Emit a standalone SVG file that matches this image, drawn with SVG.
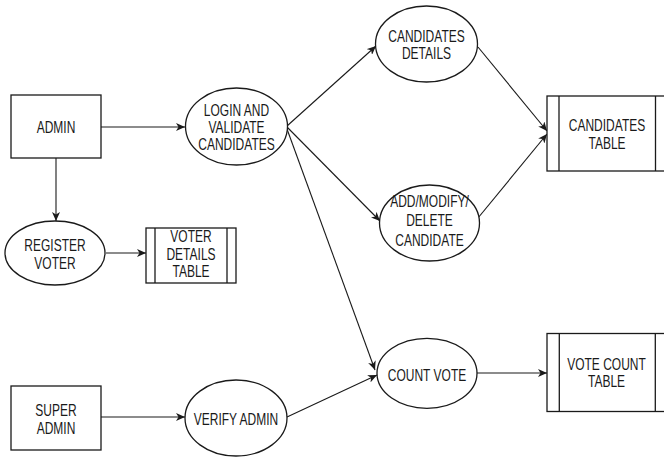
<svg xmlns="http://www.w3.org/2000/svg" width="664" height="457" viewBox="0 0 664 457">
<style>
.s{fill:#fff;stroke:#1a1a1a;stroke-width:1.3}
.c{fill:none;stroke:#1a1a1a;stroke-width:1.1}
.t{font-family:"Liberation Sans",Arial,sans-serif;font-size:12px;fill:#1a1a1a;text-anchor:middle}
</style>
<defs>
<marker id="ah" markerWidth="10" markerHeight="8" refX="9" refY="4" orient="auto" markerUnits="userSpaceOnUse">
<path d="M0,0 L9,4 L0,8 L2.5,4 Z" fill="#1a1a1a"/>
</marker>
</defs>
<rect width="664" height="457" fill="#fff"/>
<g id="connectors">
<line class="c" x1="101" y1="127" x2="185" y2="127" marker-end="url(#ah)"/>
<line class="c" x1="56" y1="158" x2="56" y2="221" marker-end="url(#ah)"/>
<line class="c" x1="106" y1="253" x2="146" y2="253" marker-end="url(#ah)"/>
<line class="c" x1="287" y1="126" x2="376" y2="46" marker-end="url(#ah)"/>
<line class="c" x1="287" y1="127" x2="380" y2="221" marker-end="url(#ah)"/>
<line class="c" x1="287" y1="129" x2="375" y2="370" marker-end="url(#ah)"/>
<line class="c" x1="478" y1="47" x2="547" y2="131" marker-end="url(#ah)"/>
<line class="c" x1="478" y1="218" x2="547" y2="134" marker-end="url(#ah)"/>
<line class="c" x1="101" y1="417" x2="185" y2="417" marker-end="url(#ah)"/>
<line class="c" x1="287" y1="417" x2="377" y2="375" marker-end="url(#ah)"/>
<line class="c" x1="477" y1="373" x2="547" y2="373" marker-end="url(#ah)"/>
</g>
<g id="admin">
<rect class="s" x="11" y="95" width="90" height="63"/>
<text class="t" transform="translate(56,127) scale(1,1.35)"><tspan x="0" y="4.3">ADMIN</tspan></text>
</g>
<g id="login">
<ellipse class="s" cx="236.5" cy="126.5" rx="51" ry="38.5"/>
<text class="t" transform="translate(236.5,127) scale(1,1.35)"><tspan x="0" y="-8.3">LOGIN AND</tspan><tspan x="0" y="4.3">VALIDATE</tspan><tspan x="0" y="16.9">CANDIDATES</tspan></text>
</g>
<g id="register">
<ellipse class="s" cx="55" cy="253" rx="50" ry="32"/>
<text class="t" transform="translate(55,254) scale(1,1.35)"><tspan x="0" y="-2.2">REGISTER</tspan><tspan x="0" y="10.8">VOTER</tspan></text>
</g>
<g id="voter-table">
<rect class="s" x="146" y="228" width="90" height="55"/>
<line class="s" x1="155" y1="228" x2="155" y2="283"/>
<line class="s" x1="227" y1="228" x2="227" y2="283"/>
<text class="t" transform="translate(191,254) scale(1,1.35)"><tspan x="0" y="-8.7">VOTER</tspan><tspan x="0" y="4.3">DETAILS</tspan><tspan x="0" y="17.3">TABLE</tspan></text>
</g>
<g id="cand-details">
<ellipse class="s" cx="426.5" cy="44" rx="51" ry="38"/>
<text class="t" transform="translate(426.5,44.5) scale(1,1.35)"><tspan x="0" y="-2.2">CANDIDATES</tspan><tspan x="0" y="10.8">DETAILS</tspan></text>
</g>
<g id="add-modify">
<ellipse class="s" cx="429.5" cy="223" rx="50" ry="38"/>
<text class="t" transform="translate(429.5,220.5) scale(1,1.35)"><tspan x="0" y="-10.1">ADD/MODIFY/</tspan><tspan x="0" y="4.3">DELETE</tspan><tspan x="0" y="18.7">CANDIDATE</tspan></text>
</g>
<g id="cand-table">
<rect class="s" x="547" y="96" width="122" height="75"/>
<line class="s" x1="559" y1="96" x2="559" y2="171"/>
<line class="s" x1="655.5" y1="96" x2="655.5" y2="171"/>
<text class="t" transform="translate(607,134) scale(1,1.35)"><tspan x="0" y="-2.2">CANDIDATES</tspan><tspan x="0" y="10.8">TABLE</tspan></text>
</g>
<g id="super-admin">
<rect class="s" x="11" y="386" width="90" height="64"/>
<text class="t" transform="translate(56,419) scale(1,1.35)"><tspan x="0" y="-2.2">SUPER</tspan><tspan x="0" y="10.8">ADMIN</tspan></text>
</g>
<g id="verify-admin">
<ellipse class="s" cx="236" cy="418" rx="51" ry="38"/>
<text class="t" transform="translate(236,419.3) scale(1,1.35)"><tspan x="0" y="4.3">VERIFY ADMIN</tspan></text>
</g>
<g id="count-vote">
<ellipse class="s" cx="427" cy="373.3" rx="50" ry="35"/>
<text class="t" transform="translate(427,375) scale(1,1.35)"><tspan x="0" y="4.3">COUNT VOTE</tspan></text>
</g>
<g id="vote-count-table">
<rect class="s" x="547" y="333.5" width="122" height="78"/>
<line class="s" x1="559.3" y1="333.5" x2="559.3" y2="411.5"/>
<line class="s" x1="655.3" y1="333.5" x2="655.3" y2="411.5"/>
<text class="t" transform="translate(606.5,372.5) scale(1,1.35)"><tspan x="0" y="-2.2">VOTE COUNT</tspan><tspan x="0" y="10.8">TABLE</tspan></text>
</g>
</svg>
